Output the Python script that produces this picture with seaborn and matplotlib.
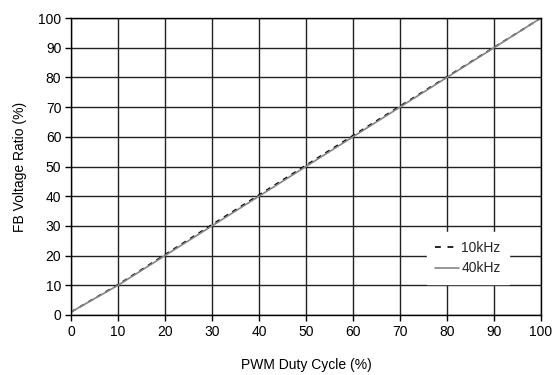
import matplotlib
matplotlib.use("Agg")
import matplotlib.pyplot as plt
import seaborn as sns
import pandas as pd
from matplotlib.lines import Line2D

duty = [0, 10, 20, 30, 40, 50, 60, 70, 80, 90, 100]
ratio_10k = [1, 10.2, 20.3, 30.4, 40.4, 50.4, 60.4, 70.3, 80.2, 90.1, 100]
ratio_40k = [1, 10, 20, 30, 40, 50, 60, 70, 80, 90, 100]
ticks = [0, 10, 20, 30, 40, 50, 60, 70, 80, 90, 100]

sns.set_theme(style="white")
plt.rcParams['font.family'] = ['Liberation Sans', 'DejaVu Sans']

df = pd.DataFrame({
    "duty": duty * 2,
    "ratio": ratio_10k + ratio_40k,
    "freq": ["10kHz"] * len(duty) + ["40kHz"] * len(duty),
})

fig = plt.figure(figsize=(5.58, 3.75), dpi=100)
ax = fig.add_axes([0.1272, 0.16, 0.8423, 0.792])

sns.lineplot(data=df, x="duty", y="ratio", hue="freq", style="freq",
             palette={"10kHz": "black", "40kHz": "#858585"},
             dashes={"10kHz": (3, 3), "40kHz": ""},
             linewidth=1.2, ax=ax, legend=False)

ax.set_xlim(0, 100)
ax.set_ylim(0, 100)
ax.set_xticks(ticks)
ax.set_yticks(ticks)
ax.grid(True, color="#222222", linewidth=1.0)
ax.set_axisbelow(True)
for s in ax.spines.values():
    s.set_color("black")
    s.set_linewidth(1.0)
ax.tick_params(axis="both", direction="out", length=4, width=1, color="black",
               labelsize=10, labelcolor="black", pad=3, bottom=True, left=True)
ax.set_xlabel("PWM Duty Cycle (%)", fontsize=10, color="black", labelpad=14)
ax.set_ylabel("FB Voltage Ratio (%)", fontsize=10, color="black", labelpad=8)

handles = [Line2D([], [], color="black", linestyle=(0, (3.5, 4)), linewidth=1.2),
           Line2D([], [], color="#858585", linewidth=1.2)]
leg = ax.legend(handles, ["10kHz", "40kHz"], loc="lower right",
                bbox_to_anchor=(0.932, 0.105), borderaxespad=0,
                frameon=True, fancybox=False,
                fontsize=10, handlelength=1.7, handletextpad=0.2,
                borderpad=0.6, labelspacing=0.5)
leg.get_frame().set_edgecolor("white")
leg.get_frame().set_facecolor("white")
leg.get_frame().set_alpha(1)

fig.savefig("out.png", dpi=100)
